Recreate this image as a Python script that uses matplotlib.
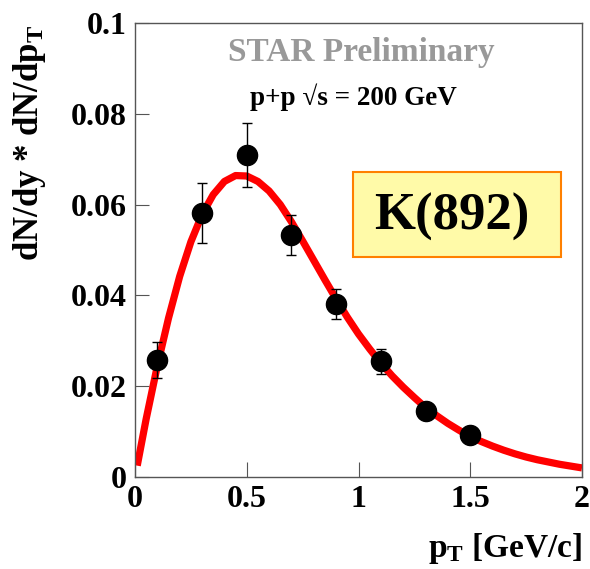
import matplotlib
matplotlib.use("Agg")
import matplotlib.pyplot as plt

plt.rcParams['font.family'] = ['Liberation Serif', 'DejaVu Serif']
plt.rcParams['font.weight'] = 'bold'
plt.rcParams['mathtext.fontset'] = 'custom'
plt.rcParams['mathtext.rm'] = 'Liberation Serif:bold'
plt.rcParams['mathtext.bf'] = 'Liberation Serif:bold'
plt.rcParams['mathtext.it'] = 'Liberation Serif:bold'

# data points
pt = [0.1, 0.3, 0.5, 0.7, 0.9, 1.1, 1.3, 1.5]
yield_vals = [0.0258, 0.0581, 0.0709, 0.0533, 0.0380, 0.0255, 0.0145, 0.0093]
yield_err = [0.0040, 0.0066, 0.0070, 0.0043, 0.0033, 0.0028, 0.0012, 0.0010]

# fit curve
fit_pt = [0.01, 0.05, 0.10, 0.15, 0.20, 0.25, 0.30, 0.35, 0.40, 0.45, 0.50,
          0.55, 0.60, 0.65, 0.70, 0.75, 0.80, 0.85, 0.90, 0.95, 1.00,
          1.05, 1.10, 1.15, 1.20, 1.25, 1.30, 1.35, 1.40, 1.45, 1.50,
          1.55, 1.60, 1.65, 1.70, 1.75, 1.80, 1.85, 1.90, 1.95, 2.00]
fit_vals = [0.0025, 0.0128, 0.0245, 0.0350, 0.0442, 0.0518, 0.0578, 0.0622, 0.0651, 0.0664, 0.0663,
            0.0651, 0.0630, 0.0600, 0.0562, 0.0520, 0.0477, 0.0434, 0.0392, 0.0352, 0.0315,
            0.0282, 0.0251, 0.0223, 0.0198, 0.0175, 0.0153, 0.0135, 0.0118, 0.0103, 0.0089,
            0.0078, 0.0068, 0.0059, 0.0051, 0.0044, 0.0038, 0.0033, 0.0028, 0.0024, 0.0020]

xticks = [0, 0.5, 1, 1.5, 2]
xtick_labels = ['0', '0.5', '1', '1.5', '2']
yticks = [0, 0.02, 0.04, 0.06, 0.08, 0.1]
ytick_labels = ['0', '0.02', '0.04', '0.06', '0.08', '0.1']

W, H = 590, 569
fig = plt.figure(figsize=(W / 100, H / 100), dpi=100)
L, R, B, T = 135, 582, 477, 23
ax = fig.add_axes([L / W, 1 - B / H, (R - L) / W, (B - T) / H])

ax.plot(fit_pt, fit_vals, color='#ff0000', lw=5.2, solid_capstyle='butt',
        solid_joinstyle='round', zorder=2)
ax.errorbar(pt, yield_vals, yerr=yield_err, fmt='o', color='black', ms=14.5,
            elinewidth=1.0, capsize=3.5, capthick=1.0, zorder=3)

ax.set_xlim(0, 2)
ax.set_ylim(0, 0.1)
ax.set_xticks(xticks)
ax.set_xticklabels(xtick_labels)
ax.set_yticks(yticks)
ax.set_yticklabels(ytick_labels)
ax.tick_params(direction='in', length=10, width=0.8, color='#555555',
               labelsize=23, top=False, right=False)
ax.tick_params(axis='x', length=11, pad=6)
ax.tick_params(axis='y', pad=6)
for s in ax.spines.values():
    s.set_color('#555555')
    s.set_linewidth(1.0)
for lab in ax.get_xticklabels() + ax.get_yticklabels():
    lab.set_fontweight('bold')

def ax_xy(px, py):
    return (px - L) / (R - L), (B - py) / (B - T)

ax.text(*ax_xy(361, 52), 'STAR Preliminary', transform=ax.transAxes, ha='center',
        va='center', fontsize=24, color='#999999', fontweight='bold')
ax.text(*ax_xy(353, 97), 'p+p \u221as = 200 GeV', transform=ax.transAxes, ha='center',
        va='center', fontsize=19.5, color='black', fontweight='bold')

x0, y0 = ax_xy(353, 257)
x1, y1 = ax_xy(561, 172)
box = plt.Rectangle((x0, y0), x1 - x0, y1 - y0, transform=ax.transAxes,
                    facecolor='#fffaa8', edgecolor='#ff8000', lw=1.5, zorder=4)
ax.add_patch(box)
ax.text(*ax_xy(452, 217), 'K(892)', transform=ax.transAxes, ha='center', va='center',
        fontsize=38, color='black', fontweight='bold', zorder=5)

fig.text(30 / W, 1 - 25 / H, r'dN/dy * dN/dp$_{\mathbf{T}}$', rotation=90,
         ha='center', va='top', fontsize=25, fontweight='bold')
fig.text(582 / W, 1 - 548 / H, r'p$_{\mathbf{T}}$ [GeV/c]', ha='right', va='center',
         fontsize=24, fontweight='bold')

fig.savefig('out.png', dpi=100)
